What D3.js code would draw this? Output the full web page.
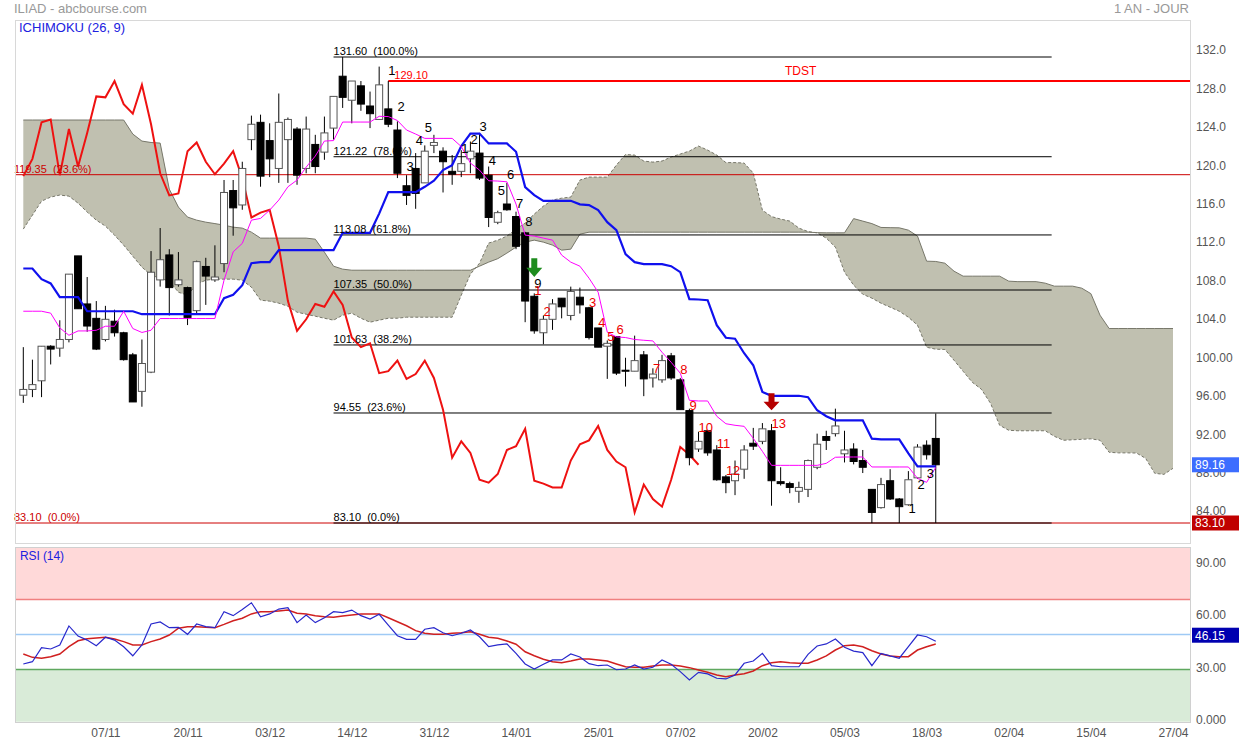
<!DOCTYPE html>
<html>
<head>
<meta charset="utf-8">
<script src="https://d3js.org/d3.v7.min.js"></script>
<style>
  body { margin: 0; background: #fff; }
  svg { font-family: "Liberation Sans", Arial, sans-serif; }
  .axis text { fill: #555; font-size: 12px; }
</style>
</head>
<body>
<script>
// daily candles, 25/10/2018 -> 19/03/2019 (index 0..100)
var opens = [96.4,97.0,97.9,101.5,101.3,102.2,110.9,105.9,104.4,102.2, 104.1,102.9,100.6,96.8,98.8,108.4,111.0,107.9,107.6,105.2,
  109.8,108.4,110.1,117.7,116.2,123.0,124.8,122.9,120.0,123.0, 124.1,120.0,122.5,121.7,124.2,129.6,127.1,128.6,126.5,125.1,
  126.2,124.0,118.2,120.0,118.5,122.4,121.8,119.7,119.7,121.0, 121.6,119.3,114.4,116.3,115.0,113.3,106.7,102.9,104.3,106.5,
  104.7,106.6,105.5,103.4,101.5,102.5,99.0,98.9,100.6,98.2, 98.0,100.5,98.0,94.8,90.8,92.7,90.7,87.9,87.5,88.7,
  91.4,91.6,92.7,87.4,87.2,86.4,86.6,88.9,92.1,92.4, 90.3,90.8,89.6,86.6,84.7,87.5,85.6,85.0,87.8,91.2, 91.9];
var highs = [101.4,100.1,101.5,101.6,104.2,109.0,110.9,108.7,106.2,105.7, 105.3,103.0,100.8,102.2,111.4,113.8,111.6,111.3,107.7,110.4,
  110.7,112.0,118.8,118.8,120.7,125.5,125.6,124.7,127.8,125.3, 124.3,125.4,123.5,125.4,127.5,131.6,129.1,129.1,128.0,130.6,
  129.1,124.9,119.3,121.6,122.4,123.5,122.2,121.4,121.9,122.8, 123.7,120.2,115.6,118.5,115.5,113.4,107.0,104.7,106.4,106.5,
  107.7,107.6,105.6,103.4,102.1,102.5,100.3,102.6,101.0,99.2, 100.6,100.8,98.2,95.0,92.6,92.8,91.2,88.1,89.6,91.2,
  93.0,93.5,93.4,88.9,87.4,87.4,89.7,92.4,92.7,95.0, 92.7,91.4,90.7,86.6,87.8,88.7,85.7,88.5,91.3,91.7, 94.5];
var lows = [95.6,96.2,96.2,99.6,100.4,101.9,105.4,103.0,101.1,102.0, 102.5,100.0,95.7,95.2,98.7,107.7,104.7,107.7,103.7,104.8,
  105.8,108.2,109.2,113.0,115.7,121.9,118.1,119.1,118.5,118.5, 118.3,119.5,119.5,120.9,123.0,126.3,124.7,126.0,124.2,125.1,
  124.3,119.0,116.2,115.8,118.5,121.6,117.5,118.3,119.1,119.5, 118.8,113.9,114.2,115.6,111.6,104.0,102.8,101.7,103.2,104.4,
  104.2,104.9,102.2,101.4,98.1,98.5,97.3,98.9,96.3,97.2, 97.7,98.0,94.9,89.1,90.5,90.1,87.5,86.2,86.0,87.7,
  90.7,91.3,84.9,87.0,86.2,85.2,85.8,88.7,90.7,92.1, 89.4,89.2,88.3,83.1,84.6,85.5,83.1,84.9,87.7,89.7, 83.1];
var closes = [97.0,97.5,101.5,101.2,102.2,109.0,105.4,103.6,101.2,104.3, 102.9,100.1,95.7,99.7,109.2,110.5,107.6,108.4,104.5,110.3,
  108.8,108.7,117.5,115.9,120.0,124.6,119.2,121.0,124.8,125.1, 119.3,124.1,120.2,123.7,127.5,127.4,129.1,126.7,125.7,128.7,
  124.6,119.5,117.2,117.4,121.8,122.7,120.7,119.4,120.5,121.8, 119.0,114.9,115.4,115.7,111.9,106.2,103.1,104.3,105.9,105.6,
  107.2,105.8,102.4,101.4,101.8,98.7,98.9,100.0,98.1,98.6, 100.0,98.2,94.9,89.9,91.6,90.4,87.6,87.3,88.2,90.7,
  91.1,92.9,87.5,87.2,86.8,86.8,89.6,91.3,91.7,93.2, 90.7,89.5,88.9,84.2,87.1,85.6,84.8,87.6,91.0,90.2, 89.16];

// ichimoku lines
var tenkan = [105.14,105.14,105.14,104.94,103.4,102.64,103.09,103.09,103.16,103.58, 103.58,105.14,103.34,102.93,103.16,104.38,104.38,104.38,104.38,104.38,
  104.38,104.38,108.37,111.32,112.2,114.62,114.8,115.66,116.71,118.09, 118.79,120.14,121.29,122.85,122.9,124.83,124.83,124.83,124.83,125.43,
  125.4,124.99,124.0,123.58,123.13,123.13,123.13,123.13,122.28,120.56, 119.83,118.72,118.69,118.61,116.29,113.06,112.96,112.75,112.54,110.98,
  110.25,109.83,108.58,107.12,102.96,102.47,102.4,102.2,102.12,102.05, 100.87,99.83,98.69,95.87,95.8,95.8,94.21,93.43,93.27,93.16,
  91.91,90.56,89.1,89.1,89.1,89.1,89.1,89.1,89.31,89.94, 89.97,89.97,89.97,88.93,88.93,88.93,88.93,88.93,87.75,87.33, 88.89];
var kijun = [109.59,109.59,108.48,108.03,106.6,106.6,106.6,105.14,105.14,105.14, 105.14,105.14,105.14,104.83,104.83,104.83,104.83,104.83,104.83,104.83,
  104.83,104.83,106.5,106.86,107.85,110.14,110.25,110.25,111.5,111.5, 111.5,111.5,111.5,111.5,111.5,113.3,113.3,113.3,113.3,115.3,
  117.54,117.54,117.54,117.54,118.09,118.72,119.83,120.35,122.33,123.63, 123.63,122.61,122.61,122.61,121.74,118.06,117.23,116.63,116.63,116.63,
  116.63,116.26,116.19,115.66,114.41,113.58,111.08,110.25,110.04,110.04, 110.04,109.83,109.21,106.39,106.36,106.29,103.69,102.38,102.28,100.77,
  99.52,96.74,96.34,96.34,96.34,96.34,96.19,94.83,94.21,93.79, 93.79,93.79,93.79,91.88,91.81,91.81,91.81,90.35,89.0,89.0, 89.0];
// cloud, projected 26 days ahead (index 0..126)
var senkouA = [113.69,115.14,116.6,117.02,117.23,117.12,116.39,115.46,114.62,114.0, 113.06,112.02,110.87,109.73,108.89,108.58,108.27,107.12,106.81,107.96,
  108.37,108.48,108.48,108.48,108.37,107.64,106.29,106.19,105.98,105.66, 105.04,104.83,104.62,104.41,104.21,104.73,104.94,104.41,104.0,104.21,
  104.41,104.41,104.52,104.52,104.52,104.52,104.52,104.52,106.81,109.0, 110.14,112.23,112.54,112.96,113.69,114.31,115.25,116.08,116.71,116.91,
  117.02,118.79,119.1,119.1,119.1,120.35,121.45,121.39,120.77,120.66, 120.77,121.19,121.5,121.81,122.33,121.91,121.39,120.61,120.61,120.56,
  119.52,115.66,114.99,114.73,114.52,113.79,113.43,113.3,112.75,111.81, 109.21,107.85,106.91,106.5,105.98,105.56,105.14,104.52,103.69,101.39,
  101.19,101.16,100.04,98.89,97.75,97.02,95.56,93.27,92.75,92.7, 92.7,92.7,92.7,92.12,91.71,91.76,91.81,91.86,91.71,90.46,
  90.4,90.4,90.38,89.83,88.27,88.16,88.79];
var senkouB = [125.04,125.04,125.04,125.04,125.04,125.04,125.04,125.04,125.04,125.04, 125.04,125.04,123.58,122.85,122.7,122.64,117.85,115.98,114.94,114.62,
  114.41,114.26,114.1,113.89,113.79,113.37,112.75,112.75,112.75,112.75, 112.75,112.75,112.64,111.29,109.83,109.52,109.41,109.41,109.41,109.41,
  109.41,109.41,109.41,109.41,109.41,109.41,109.41,109.41,109.41,109.41, 109.83,110.25,110.61,111.19,111.81,112.33,112.54,112.33,112.02,111.5,
  111.6,113.16,113.37,113.37,113.37,113.37,113.37,113.37,113.37,113.37, 113.37,113.37,113.37,113.37,113.37,113.37,113.37,113.37,113.37,113.37,
  113.37,113.37,113.37,113.37,113.37,113.37,113.37,113.32,113.3,113.3, 113.3,114.78,114.52,114.26,113.86,113.84,113.82,113.58,112.96,110.35,
  110.32,110.14,109.31,108.79,108.79,108.79,108.79,108.79,108.27,108.22, 108.22,108.22,108.06,107.75,107.75,107.75,107.54,106.97,104.73,103.34,
  103.34,103.34,103.34,103.34,103.34,103.34,103.34];

var rsi = [33.1,34.4,42.4,41.7,44.0,54.9,49.1,46.8,43.6,48.4, 46.8,43.0,37.8,44.0,56.0,57.2,53.9,54.1,50.1,56.0,
  54.5,53.9,63.1,60.8,64.4,68.2,60.2,61.8,64.6,65.4, 56.8,61.2,56.8,59.6,63.1,62.5,64.0,60.8,58.9,61.6,
  55.4,49.3,47.2,47.2,53.0,53.9,51.0,49.3,50.7,52.6, 48.7,43.0,44.0,44.6,39.2,33.1,30.2,32.9,35.4,35.4,
  38.8,37.1,33.3,32.1,32.5,29.8,30.2,32.5,30.2,31.2, 35.4,32.9,28.7,23.9,28.3,27.4,24.9,24.5,26.8,33.5,
  34.8,39.2,32.1,31.5,31.5,31.5,38.6,43.4,44.6,47.4, 42.7,40.5,39.6,32.1,39.2,37.7,36.4,43.0,49.7,48.7, 46.15];
var rsiSignal = [38.8,36.9,36.4,37.3,38.8,43.0,46.4,47.6,48.0,48.4, 47.4,45.9,44.0,44.0,45.9,47.4,49.7,53.6,54.5,54.5,
  54.1,53.9,55.8,57.9,59.3,61.8,63.1,63.1,63.5,64.0, 62.2,61.8,60.8,60.2,59.9,60.6,61.2,61.8,61.8,61.8,
  59.6,57.3,55.0,52.2,50.7,50.1,50.1,50.7,51.0,51.6, 50.1,48.4,47.8,46.3,44.4,40.1,37.8,35.8,34.4,33.8,
  34.8,36.0,36.0,35.4,34.8,33.1,31.5,31.2,31.2,31.9, 32.5,32.5,31.9,31.0,29.6,28.3,26.8,25.8,26.8,27.5,
  29.1,32.1,33.8,34.4,33.8,33.5,33.5,35.4,37.7,41.1, 43.6,44.0,43.0,40.7,38.8,37.7,37.3,37.3,41.1,43.0, 44.6];

var dateTicks = [9, 18, 27, 36, 45, 54, 63, 72, 81, 90, 99, 108, 117, 126];
var dateLabels = ['07/11','20/11','03/12','14/12','31/12','14/01','25/01','07/02','20/02','05/03','18/03','02/04','15/04','27/04'];
var priceTicks = [84, 88, 92, 96, 100, 104, 108, 112, 116, 120, 124, 128, 132];
var rsiTicks = [0, 30, 60, 90];
var rsiLevels = [70, 50, 30];

var fibLevels = [131.60, 121.22, 113.08, 107.35, 101.63, 94.55, 83.10];
var fibPct = ['100.0%', '78.6%', '61.8%', '50.0%', '38.2%', '23.6%', '0.0%'];
var fibSpan = [34, 112.7];
var redLevels = [119.35, 83.10];
var redPct = ['23.6%', '0.0%'];
var tdst = { value: 129.10, from: 40, labelAt: 85.2 };

var tdBlack = [[40,130.25,'1'],[41,126.43,'2'],[42,120.25,'3'],[43,122.96,'4'],[44,124.24,'5'],
  [48,122.09,'1'],[49,123.03,'2'],[50,124.41,'3'],[51,120.87,'4'],[52,117.75,'5'],[53,119.41,'6'],
  [54,116.36,'7'],[55,114.52,'8'],[56,108.09,'9'],[97,84.59,'1'],[98,87.09,'2'],[99,88.24,'3']];
var tdRed = [[56,107.33,'1'],[57,105.14,'2'],[62,106.11,'3'],[63,104.0,'4'],[64,102.54,'5'],[65,103.27,'6'],
  [69,99.18,'7'],[72,99.1,'8'],[73,95.35,'9'],[74,93.03,'10'],[76,91.36,'11'],[77,88.58,'12'],[82,93.45,'13']];
var arrows = [[56, 110.66, 108.69, '#1e8c1e'], [82, 96.6, 94.83, '#b50000']];

// chikou = close plotted 26 days back
var chikou = closes.slice(26);

var W = 1239, H = 743;
var left = 15, right = 1190, mainTop = 20, mainBottom = 543, rsiTop = 547, rsiBottom = 722;

var svg = d3.select('body').append('svg').attr('width', W).attr('height', H);

var x = d3.scaleLinear().domain([0, 126]).range([23.3, 1173]);
var y = d3.scaleLinear().domain([83.1, 131.6]).range([523, 57]);
var yr = d3.scaleLinear().domain([0, 100]).range([721.7, 547.3]);

var defs = svg.append('defs');
defs.append('clipPath').attr('id', 'clipMain').append('rect')
  .attr('x', left).attr('y', mainTop).attr('width', right - left).attr('height', mainBottom - mainTop);
defs.append('clipPath').attr('id', 'clipRsi').append('rect')
  .attr('x', left).attr('y', rsiTop).attr('width', right - left).attr('height', rsiBottom - rsiTop);

// header texts
svg.append('text').attr('x', 14).attr('y', 13).attr('fill', '#999').style('font-size', '13px').text('ILIAD - abcbourse.com');
svg.append('text').attr('x', 1189).attr('y', 13).attr('fill', '#999').attr('text-anchor', 'end').style('font-size', '13px').text('1 AN - JOUR');

var main = svg.append('g').attr('clip-path', 'url(#clipMain)');

// cloud
var cloudArea = d3.area()
  .x(function(d, i) { return x(i); })
  .y0(function(d, i) { return y(senkouA[i]); })
  .y1(function(d, i) { return y(senkouB[i]); });
main.append('path').datum(senkouA).attr('d', cloudArea).attr('fill', '#c0c0b0');

var idxLine = d3.line().x(function(d, i) { return x(i); }).y(function(d) { return y(d); });
main.append('path').datum(senkouB).attr('d', idxLine).attr('fill', 'none').attr('stroke', '#77776a').attr('stroke-width', 1);
main.append('path').datum(senkouA).attr('d', idxLine).attr('fill', 'none').attr('stroke', '#77776a').attr('stroke-width', 1).attr('stroke-dasharray', '3,2');

// red full width retracement lines
main.selectAll('.redlvl').data(redLevels).enter().append('line')
  .attr('x1', left).attr('x2', right)
  .attr('y1', function(d) { return y(d); }).attr('y2', function(d) { return y(d); })
  .attr('stroke', '#cc0000').attr('stroke-width', 1);

// fibonacci lines
main.selectAll('.fib').data(fibLevels).enter().append('line')
  .attr('x1', x(fibSpan[0])).attr('x2', x(fibSpan[1]))
  .attr('y1', function(d) { return y(d); }).attr('y2', function(d) { return y(d); })
  .attr('stroke', '#000').attr('stroke-width', 1);

// TDST
main.append('line').attr('x1', x(tdst.from)).attr('x2', right)
  .attr('y1', y(tdst.value)).attr('y2', y(tdst.value))
  .attr('stroke', '#ff0000').attr('stroke-width', 2);

// chikou
main.append('path').datum(chikou).attr('d', idxLine).attr('fill', 'none').attr('stroke', '#ee1111').attr('stroke-width', 2);

// candles
var bw = 7;
var candles = main.selectAll('.candle').data(closes).enter().append('g');
candles.append('line')
  .attr('x1', function(d, i) { return x(i); }).attr('x2', function(d, i) { return x(i); })
  .attr('y1', function(d, i) { return y(highs[i]); }).attr('y2', function(d, i) { return y(lows[i]); })
  .attr('stroke', '#000').attr('stroke-width', 1);
candles.append('rect')
  .attr('x', function(d, i) { return x(i) - bw / 2; })
  .attr('width', bw)
  .attr('y', function(d, i) { return y(Math.max(opens[i], closes[i])); })
  .attr('height', function(d, i) { return Math.max(1, Math.abs(y(opens[i]) - y(closes[i]))); })
  .attr('fill', function(d, i) { return closes[i] >= opens[i] ? '#fff' : '#000'; })
  .attr('stroke', function(d, i) { return closes[i] >= opens[i] ? '#555' : '#000'; })
  .attr('stroke-width', 1);

// kijun / tenkan
main.append('path').datum(kijun).attr('d', idxLine).attr('fill', 'none').attr('stroke', '#1010ee').attr('stroke-width', 2.2);
main.append('path').datum(tenkan).attr('d', idxLine).attr('fill', 'none').attr('stroke', '#ff00ff').attr('stroke-width', 1);

// TD counts
function tdText(data, color) {
  main.selectAll(null).data(data).enter().append('text')
    .attr('x', function(d) { return x(d[0]); })
    .attr('y', function(d) { return y(d[1]); })
    .attr('dy', '0.36em')
    .attr('fill', color).style('font-size', '13px')
    .text(function(d) { return d[2]; });
}
tdText(tdBlack, '#000');
tdText(tdRed, '#ee0000');

// arrows
main.selectAll('.arrow').data(arrows).enter().append('path')
  .attr('d', function(d) {
    var cx = x(d[0]), t = y(d[1]), b = y(d[2]), m = t + (b - t) * 0.5;
    return 'M' + (cx - 3) + ',' + t + 'L' + (cx + 3) + ',' + t + 'L' + (cx + 3) + ',' + m +
      'L' + (cx + 8) + ',' + m + 'L' + cx + ',' + b + 'L' + (cx - 8) + ',' + m + 'L' + (cx - 3) + ',' + m + 'Z';
  })
  .attr('fill', function(d) { return d[3]; });

// level labels
var fmt2 = d3.format('.2f');
svg.selectAll('.fibl').data(fibLevels).enter().append('text')
  .attr('x', x(fibSpan[0])).attr('y', function(d) { return y(d) - 2; })
  .attr('fill', '#000').style('font-size', '11px')
  .text(function(d, i) { return fmt2(d) + '\u00a0\u00a0(' + fibPct[i] + ')'; });
svg.selectAll('.redl').data(redLevels).enter().append('text')
  .attr('x', 14).attr('y', function(d) { return y(d) - 2; })
  .attr('fill', '#cc0000').style('font-size', '11px')
  .text(function(d, i) { return fmt2(d) + '\u00a0\u00a0(' + redPct[i] + ')'; });
svg.append('text').attr('x', x(tdst.from) + 6).attr('y', y(tdst.value) - 2)
  .attr('fill', '#ff0000').style('font-size', '11px').text(fmt2(tdst.value));
svg.append('text').attr('x', x(tdst.labelAt)).attr('y', y(tdst.value) - 6).attr('text-anchor', 'middle')
  .attr('fill', '#ff0000').style('font-size', '12px').text('TDST');

svg.append('text').attr('x', 19).attr('y', 32).attr('fill', '#2020e0').style('font-size', '13px').text('ICHIMOKU (26, 9)');

// RSI panel
var rp = svg.append('g').attr('clip-path', 'url(#clipRsi)');
rp.append('rect').attr('x', left).attr('width', right - left).attr('y', yr(100)).attr('height', yr(70) - yr(100)).attr('fill', '#ffd9d9');
rp.append('rect').attr('x', left).attr('width', right - left).attr('y', yr(30)).attr('height', yr(0) - yr(30)).attr('fill', '#d9ebd8');
var lvlColors = ['#f08080', '#9fcaf5', '#5fa85f'];
rp.selectAll('.rl').data(rsiLevels).enter().append('line')
  .attr('x1', left).attr('x2', right)
  .attr('y1', function(d) { return yr(d); }).attr('y2', function(d) { return yr(d); })
  .attr('stroke', function(d, i) { return lvlColors[i]; }).attr('stroke-width', 1.5);
var rsiLine = d3.line().x(function(d, i) { return x(i); }).y(function(d) { return yr(d); });
rp.append('path').datum(rsiSignal).attr('d', rsiLine).attr('fill', 'none').attr('stroke', '#d02020').attr('stroke-width', 1.5);
rp.append('path').datum(rsi).attr('d', rsiLine).attr('fill', 'none').attr('stroke', '#2828cc').attr('stroke-width', 1.2);
svg.append('text').attr('x', 20).attr('y', 560).attr('fill', '#2020e0').style('font-size', '12px')
  .attr('textLength', 44).text('RSI (14)');

// frames
svg.append('rect').attr('x', left + 0.5).attr('y', mainTop + 0.5).attr('width', right - left).attr('height', mainBottom - mainTop)
  .attr('fill', 'none').attr('stroke', '#d8d8d8');
svg.append('rect').attr('x', left + 0.5).attr('y', rsiTop + 0.5).attr('width', right - left).attr('height', rsiBottom - rsiTop)
  .attr('fill', 'none').attr('stroke', '#d0d0d0');

// axes
var priceFmt = function(v) { return v > 100 ? v.toFixed(1) : v.toFixed(2); };
var yAxis = svg.append('g').attr('class', 'axis').attr('transform', 'translate(' + right + ',0)')
  .call(d3.axisRight(y).tickValues(priceTicks).tickSize(0).tickPadding(6).tickFormat(priceFmt));
yAxis.select('.domain').remove();
yAxis.selectAll('text').attr('dy', '0.05em');

var rAxis = svg.append('g').attr('class', 'axis').attr('transform', 'translate(' + right + ',0)')
  .call(d3.axisRight(yr).tickValues(rsiTicks).tickSize(0).tickPadding(6)
    .tickFormat(function(v) { return v === 0 ? '0.000' : v.toFixed(2); }));
rAxis.select('.domain').remove();
rAxis.selectAll('text').attr('dy', '0.15em');

var xAxis = svg.append('g').attr('class', 'axis').attr('transform', 'translate(0,' + rsiBottom + ')')
  .call(d3.axisBottom(x).tickValues(dateTicks).tickSize(0).tickPadding(6)
    .tickFormat(function(d, i) { return dateLabels[i]; }));
xAxis.select('.domain').remove();

// value tags
var tags = [[y(closes[closes.length - 1]), fmt2(closes[closes.length - 1]), '#3d6dff'],
            [y(83.10), fmt2(83.10), '#c00000'],
            [yr(rsi[rsi.length - 1]) - 6, fmt2(rsi[rsi.length - 1]), '#0000b0']];
var tg = svg.selectAll('.tag').data(tags).enter().append('g');
tg.append('rect').attr('x', right + 2).attr('width', W - right - 2).attr('height', 15)
  .attr('y', function(d) { return d[0] - 7.5; }).attr('fill', function(d) { return d[2]; });
tg.append('text').attr('x', right + 5).attr('y', function(d) { return d[0]; }).attr('dy', '0.36em')
  .attr('fill', '#fff').style('font-size', '12px').text(function(d) { return d[1]; });
</script>
</body>
</html>
